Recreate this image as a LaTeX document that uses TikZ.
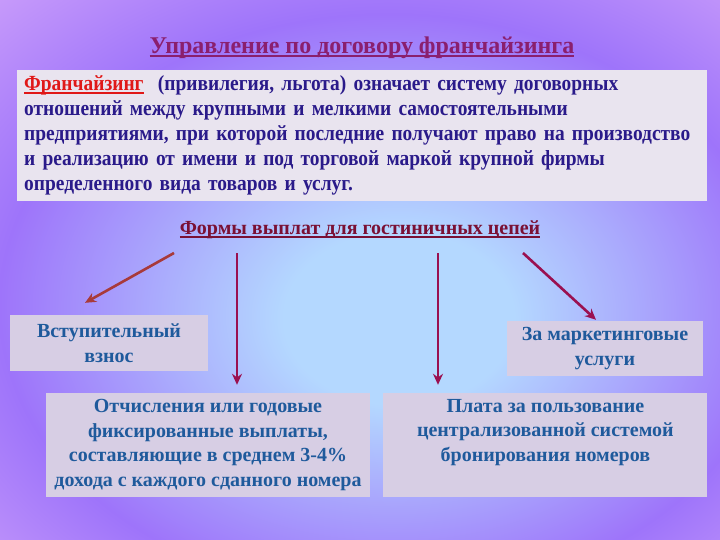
\documentclass[tikz,border=0pt]{standalone}
\usepackage{fontspec}
\setmainfont{Liberation Serif}
\newfontfamily\condf{Liberation Serif}[FakeStretch=0.9]
\usetikzlibrary{arrows.meta,calc,positioning}

\definecolor{ttl}{HTML}{8A1F6E}
\definecolor{sub}{HTML}{7A1034}
\definecolor{dfc}{HTML}{2A1A8A}
\definecolor{redw}{HTML}{E01818}
\definecolor{bxt}{HTML}{1F5A9C}
\definecolor{bxf}{HTML}{D7CEE4}
\definecolor{dff}{HTML}{E9E4EF}
\definecolor{arrc}{HTML}{9A1050}
\definecolor{arrb}{HTML}{A83A3A}
\definecolor{bga}{HTML}{B4D8FF}
\definecolor{bgb}{HTML}{9E74FA}
\definecolor{bgc}{HTML}{CC9FFA}
\definecolor{bgd}{HTML}{A9CBFB}

\pgfdeclareradialshading{bgsh}{\pgfpoint{3bp}{-5bp}}{color(0bp)=(bga);color(8bp)=(bga);color(27bp)=(bgb);color(40bp)=(bgc);color(56bp)=(bgd);color(80bp)=(bgd)}

\newcommand\ulin[1]{\setbox0\hbox{#1}\rlap{\rule[-3pt]{\wd0}{1.6pt}}\box0}

\tikzset{dfbox/.style={fill=dff,text=dfc,align=left,text width=676pt,minimum height=131pt,inner xsep=7pt,
    font=\condf\fontsize{21.6}{25}\selectfont\bfseries},
  pbox/.style={fill=bxf,text=bxt,align=center,inner sep=0pt,font=\fontsize{20}{24.5}\selectfont\bfseries},
  arr/.style={line width=2.6pt,draw=arrc,-{Stealth[length=11pt,width=10pt]}}}

\begin{document}
\begin{tikzpicture}[x=1pt,y=-1pt]
\shade[shading=bgsh] (0,0) rectangle (720,540);
\useasboundingbox (0,0) rectangle (720,540);
\node[text=ttl,font=\fontsize{24}{28}\selectfont\bfseries] (title) at (362,48) {\ulin{Управление по договору франчайзинга}};
\node[dfbox,anchor=north west] (defn) at (17,70) {{\color{redw}\ulin{Франчайзинг}}\ \ (привилегия, льгота) означает систему договорных\\
отношений между крупными и мелкими самостоятельными\\
предприятиями, при которой последние получают право на производство\\
и реализацию от имени и под торговой маркой крупной фирмы\\
определенного вида товаров и услуг.};
\node[text=sub,font=\fontsize{20}{24}\selectfont\bfseries] (forms) at (360,230) {\ulin{Формы выплат для гостиничных цепей}};

\coordinate (s1) at (174,253);
\coordinate (s2) at (237,253);
\coordinate (s3) at (438,253);
\coordinate (s4) at (523,253);

\node[pbox,minimum width=198pt,minimum height=56pt] (entry) at (109,343) {Вступительный\\взнос};
\node[pbox,minimum width=196pt,minimum height=55pt] (marketing) at (605,348.5) {За маркетинговые\\услуги};
\node[pbox,minimum width=324pt,minimum height=104pt] (deductions) at (208,445) {Отчисления или годовые\\фиксированные выплаты,\\составляющие в среднем 3-4\%\\дохода с каждого сданного номера};
\node[pbox,minimum width=324pt,minimum height=104pt,right=13pt of deductions] (booking) {\parbox[c][91.5pt][t]{320pt}{\centering Плата за пользование\\централизованной системой\\бронирования номеров}};

\draw[arr,draw=arrb] (s1) -- ($(entry.north)+(-24,-12)$);
\draw[arr,shorten >=8pt] (s2) -- (deductions.north -| s2);
\draw[arr,shorten >=8pt] (s3) -- (booking.north -| s3);
\draw[arr] (s4) -- ($(marketing.north)+(-9,-1)$);
\end{tikzpicture}
\end{document}
